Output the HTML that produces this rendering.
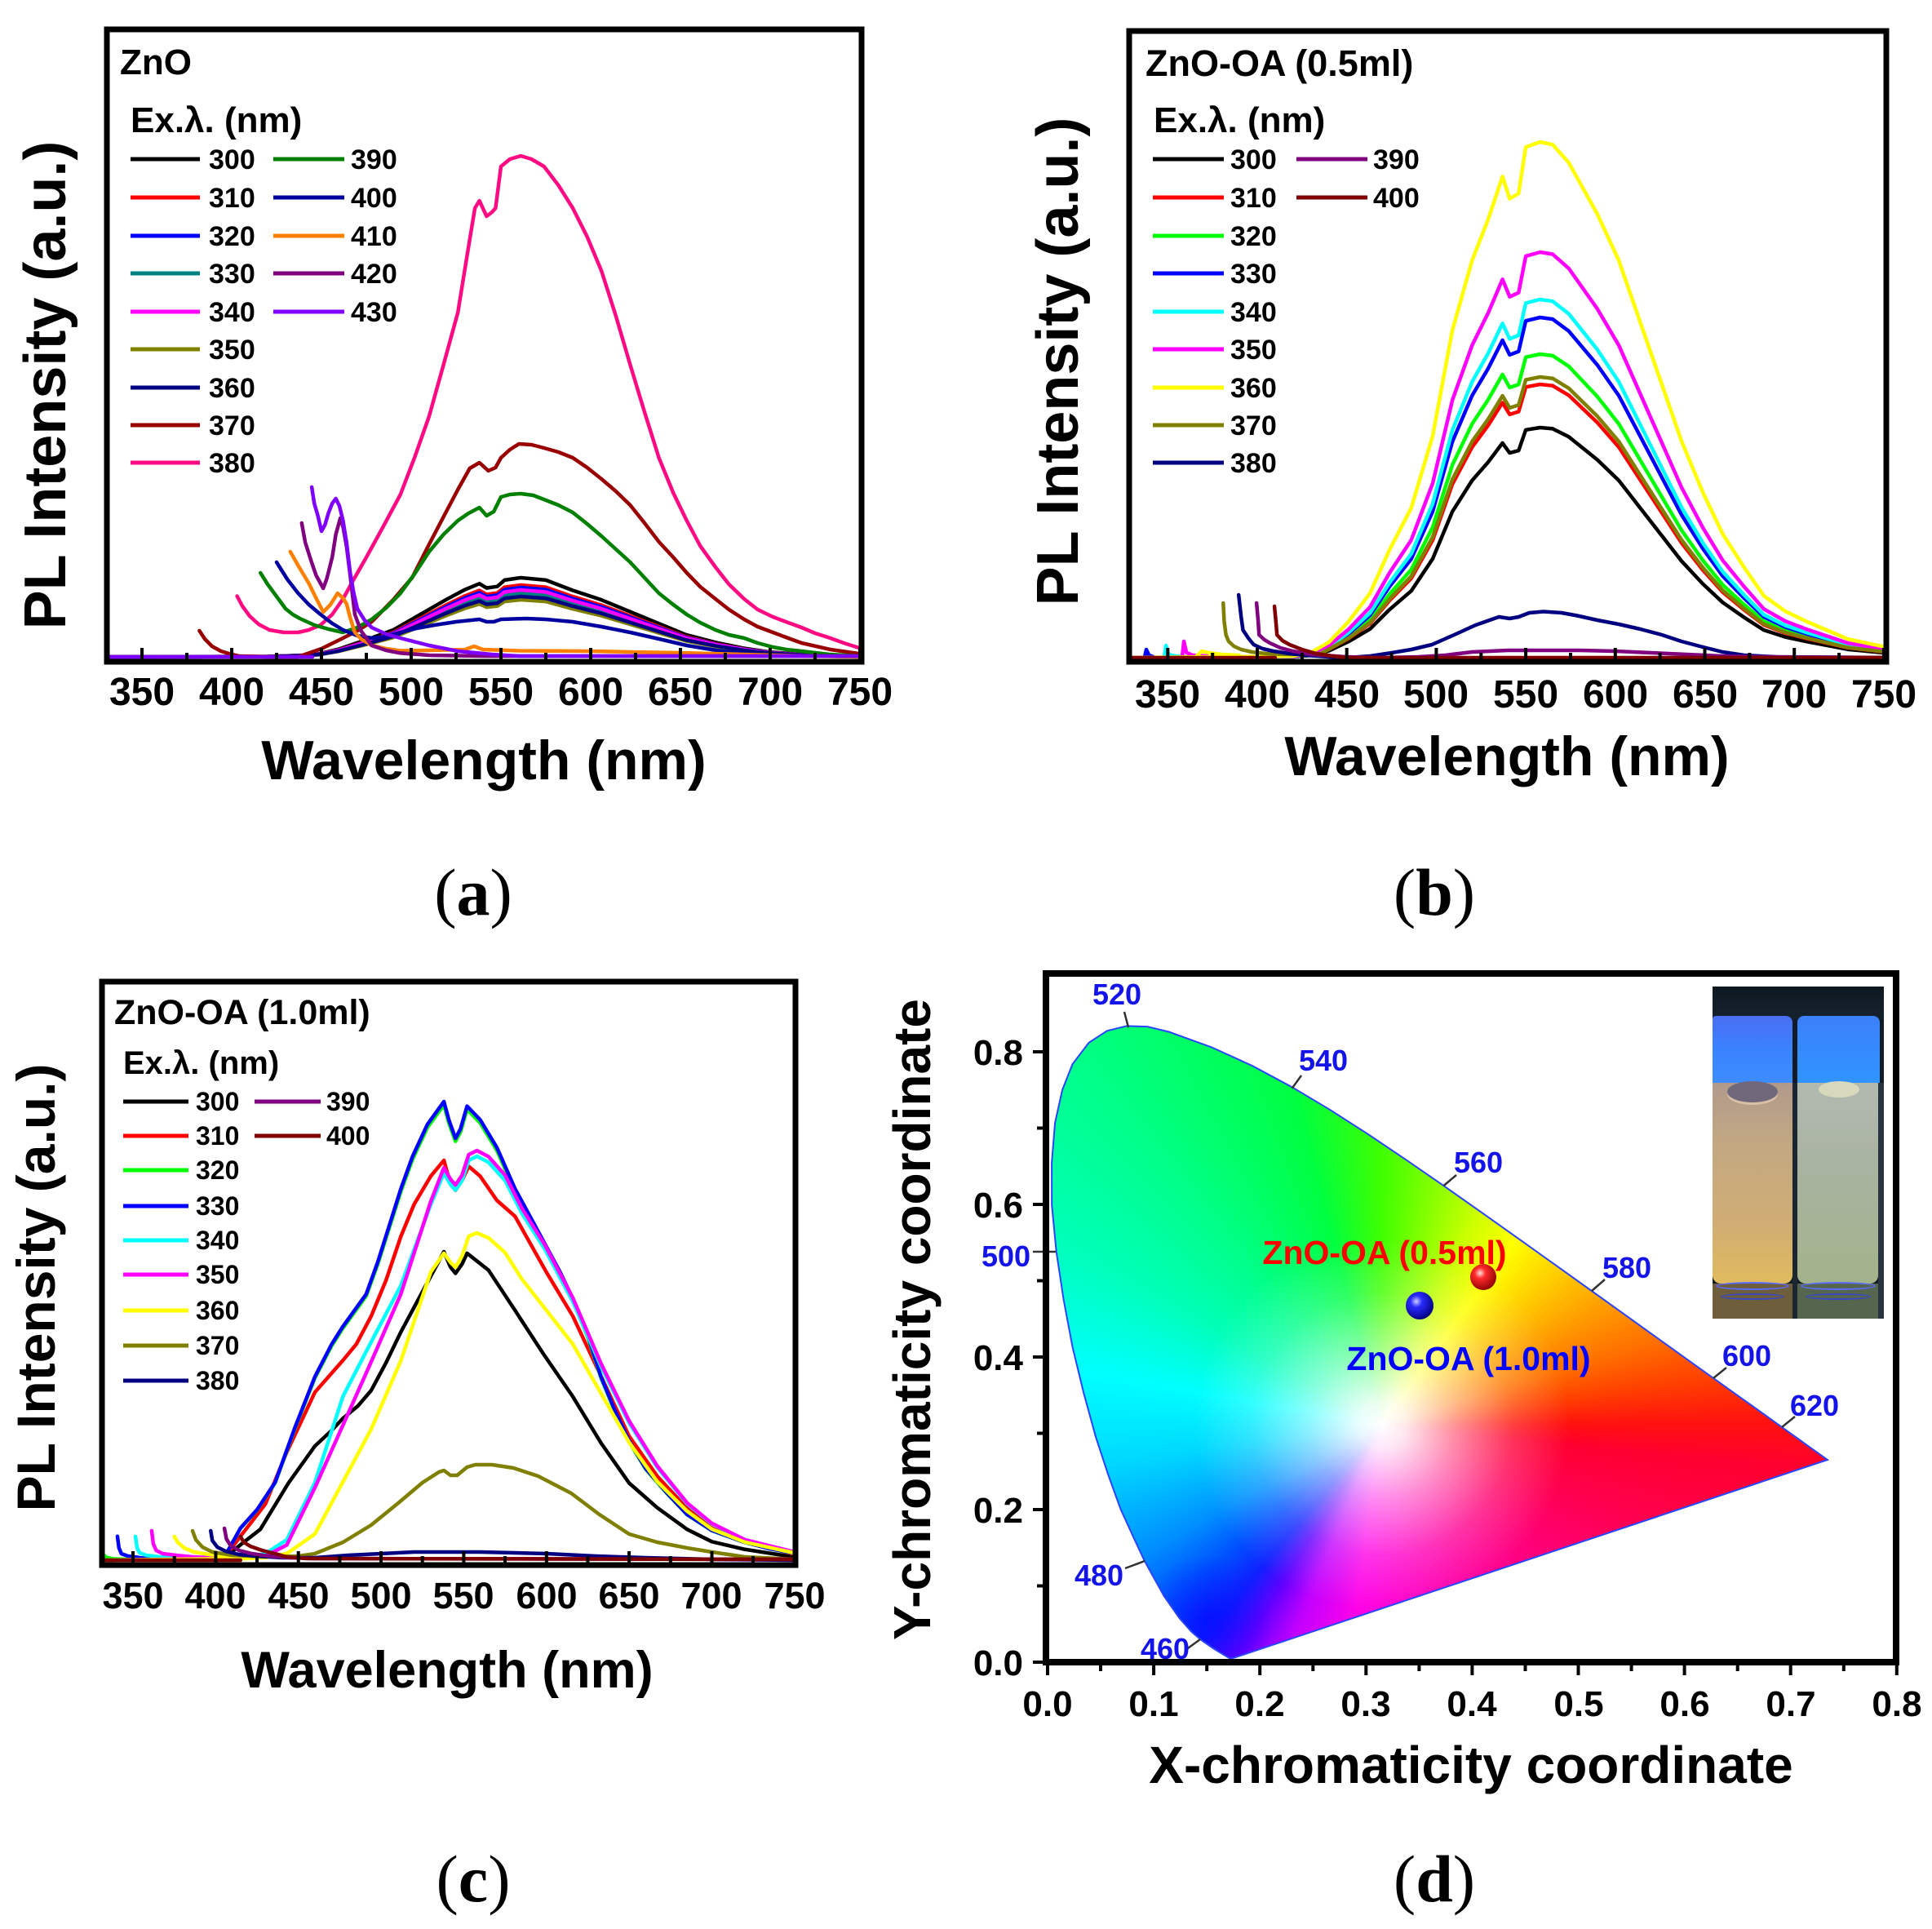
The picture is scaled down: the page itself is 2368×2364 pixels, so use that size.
<!DOCTYPE html>
<html><head><meta charset="utf-8">
<style>
html,body{margin:0;padding:0;background:#fff;}
body{width:2368px;height:2364px;position:relative;overflow:hidden;}
svg text{font-family:"Liberation Sans",Arial,sans-serif;font-weight:bold;fill:#000;}
.c path{fill:none;stroke-width:4.5;stroke-linejoin:round;stroke-linecap:round;vector-effect:non-scaling-stroke;}
.lg line{stroke-width:5;}
.tk{stroke:#000;stroke-width:4;fill:none;}
</style></head>
<body>
<div style="position:absolute;left:0;top:0;width:2368px;height:2364px;
clip-path:polygon(1510.5px 2032.3px,1507px 2032.2px,1497.9px 2026.8px,1487.7px 2020.5px,1471.3px 2009.2px,1460.3px 1999.7px,1445.5px 1983px,1426.6px 1955.8px,1402.8px 1912.9px,1388.7px 1882.7px,1373.4px 1849.3px,1358.2px 1807px,1343.1px 1761.2px,1328.2px 1707px,1314.6px 1651.1px,1303.5px 1592px,1294.7px 1533.6px,1289.2px 1477px,1289.1px 1424.8px,1293.1px 1376px,1302.1px 1335.6px,1314.6px 1304px,1334.6px 1277.8px,1356.9px 1263.3px,1380.7px 1257.4px,1406.3px 1258.1px,1432.6px 1264.5px,1485.3px 1283.5px,1535px 1306.2px,1582.7px 1331.7px,1629.8px 1359.8px,1676.4px 1389.7px,1722.8px 1420.9px,1769.4px 1453.1px,1815.7px 1485.7px,1861.8px 1518.4px,1906.9px 1550.6px,1950.8px 1582px,1992.8px 1612.1px,2032.3px 1640.4px,2068.4px 1666.3px,2099.7px 1688.7px,2127.3px 1708.4px,2150.2px 1724.7px,2183.6px 1748.7px,2205px 1764px,2219.4px 1774.4px,2233.7px 1784.6px,2239.9px 1789px);
background:
radial-gradient(circle at 1480px 1985px, rgba(0,0,255,.55) 0px, rgba(0,0,255,.25) 40px, rgba(0,0,255,0) 80px),
radial-gradient(circle at 1694px 1746px, #fff 0px, rgba(255,255,255,.9) 30px, rgba(255,255,255,.55) 90px, rgba(255,255,255,.2) 160px, rgba(255,255,255,0) 230px),
conic-gradient(from 0deg at 1694px 1746px, #40ff00 0deg, #90ff00 14deg, #d0ff00 25deg, #ffff00 36deg, #ffb000 57deg, #ff7000 73deg, #ff4000 82deg, #ff1010 90deg, #ff0030 96deg, #ff0070 125deg, #ff00b0 160deg, #ff00e8 188deg, #c000ff 203deg, #6000ff 212deg, #1020ff 220deg, #0050ff 230deg, #0090ff 242deg, #00d8ff 262deg, #00ffff 280deg, #00ffb8 300deg, #00ff88 320deg, #00ff40 345deg, #40ff00 360deg);"></div>

<svg width="2368" height="2364" viewBox="0 0 2368 2364" style="position:absolute;left:0;top:0">
<defs>
<clipPath id="ca"><rect x="134" y="39" width="919" height="769"/></clipPath>
<clipPath id="cb"><rect x="1387" y="41" width="922" height="767"/></clipPath>
<clipPath id="cc"><rect x="128" y="1206" width="844" height="709"/></clipPath>
<radialGradient id="rs" cx="0.38" cy="0.35" r="0.7"><stop offset="0" stop-color="#ffe0e0"/><stop offset="0.3" stop-color="#ff2a2a"/><stop offset="1" stop-color="#8a0000"/></radialGradient>
<radialGradient id="bs" cx="0.38" cy="0.35" r="0.7"><stop offset="0" stop-color="#d0d0ff"/><stop offset="0.3" stop-color="#2a2aff"/><stop offset="1" stop-color="#00007a"/></radialGradient>
</defs>

<!-- ================= PANEL A ================= -->
<g class="c" clip-path="url(#ca)">
<path d="M330,0 L420,5 440,20 449,40 460,100 478,240 490,340 500,470 510,600 520,730 530,850 538,925 542,870 548,890 552,970 561,1000 575,970 590,840 606,720 622,570 638,420 653,280 670,180 685,110 700,60 718,30 735,15 752,5" transform="translate(-596,805) scale(2.2,-0.097)" stroke="#000"/>
<path d="M330,0 L420,5 440,20 449,40 460,100 478,240 490,340 500,470 510,600 520,730 530,850 538,925 542,870 548,890 552,970 561,1000 575,970 590,840 606,720 622,570 638,420 653,280 670,180 685,110 700,60 718,30 735,15 752,5" transform="translate(-596,805) scale(2.2,-0.088)" stroke="#ff0000"/>
<path d="M330,0 L420,5 440,20 449,40 460,100 478,240 490,340 500,470 510,600 520,730 530,850 538,925 542,870 548,890 552,970 561,1000 575,970 590,840 606,720 622,570 638,420 653,280 670,180 685,110 700,60 718,30 735,15 752,5" transform="translate(-596,805) scale(2.2,-0.085)" stroke="#0000ff"/>
<path d="M330,0 L420,5 440,20 449,40 460,100 478,240 490,340 500,470 510,600 520,730 530,850 538,925 542,870 548,890 552,970 561,1000 575,970 590,840 606,720 622,570 638,420 653,280 670,180 685,110 700,60 718,30 735,15 752,5" transform="translate(-596,805) scale(2.2,-0.078)" stroke="#008080"/>
<path d="M330,0 L420,5 440,20 449,40 460,100 478,240 490,340 500,470 510,600 520,730 530,850 538,925 542,870 548,890 552,970 561,1000 575,970 590,840 606,720 622,570 638,420 653,280 670,180 685,110 700,60 718,30 735,15 752,5" transform="translate(-596,805) scale(2.2,-0.082)" stroke="#ff00ff"/>
<path d="M330,0 L420,5 440,20 449,40 460,100 478,240 490,340 500,470 510,600 520,730 530,850 538,925 542,870 548,890 552,970 561,1000 575,970 590,840 606,720 622,570 638,420 653,280 670,180 685,110 700,60 718,30 735,15 752,5" transform="translate(-596,805) scale(2.2,-0.070)" stroke="#808000"/>
<path d="M330,0 L420,5 440,20 449,40 460,100 478,240 490,340 500,470 510,600 520,730 530,850 538,925 542,870 548,890 552,970 561,1000 575,970 590,840 606,720 622,570 638,420 653,280 670,180 685,110 700,60 718,30 735,15 752,5" transform="translate(-596,805) scale(2.2,-0.074)" stroke="#000080"/>
<path d="M382,32 L385,22 389,13 394,7 400,3 404,1 420,0 437,0 450,10 462,23 470,32 478,43 490,70 500.5,97 510,138 520,180 526,205 532.6,231 538,238 543,228 547,232 550,244 555,254 560,261 567,260 574,256 582,251 590,244 598,232 606,218 614,203 622,186 630,164 638,141 646,122 653.5,103 661,86 669.5,71 677,58 685.5,46 693,37 701.5,30 710,23 717.5,17 733.5,9 749.5,4 752,4" transform="translate(-596,805) scale(2.2,-1)" stroke="#990000"/>
<path d="M403,74.5 L406,62 410,50 415,40 421,33 429,30 437,30 443,33 449.5,39 456,52 462,71 468,95 475,122 484,158 494,199 502,245 510,295 518,358 526,422 531,490 535.5,550 538,559 542,540 545,545 547,550 550,601 555,610 561,614 567,610 574,601 582,578 590,550 598,515 606,473 614,418 622,358 630,300 638,244 646,201 653.5,167 661,136 669.5,110 677,89 685.5,71 693,58 701.5,49 710,42 717.5,36 725,29 733.5,23 741,17 749.5,11 752,10" transform="translate(-596,805) scale(2.2,-1)" stroke="#ff0a82"/>
<path d="M416,103 L418,96 420,89 423,80 426,71 430,59 434,52 438,47 446,39 454,34 462,30 470,36 478,46 486,60 494,78 502,102 510,129 518,150 526,167 532,176 538,183 542,173 546,178 550,196 555,199 561,200 568,198 575,192 582,186 590,177 598,163 606,148 614,132 622,116 630,97 638,78 646,64 653.5,52 661,42 669.5,33 677,27 685.5,23 693,17 701.5,12 709,9 717.5,7 733,3 749.5,1 752,1" transform="translate(-596,805) scale(2.2,-1)" stroke="#008000"/>
<path d="M425,116 L431,95 437,78 443,64 449.5,52 456,41 462,33 470,26 478,23 486,25 494,30 503,35 513,39 525,43 538,46 542,43 546,43 550,46 564,47 575,46 590,43 606,37 622,30 638,22 653.5,14 670,8 685.5,4 700,2 752,0" transform="translate(-596,805) scale(2.2,-1)" stroke="#0000a0"/>
<path d="M432.6,129 L437,112 443,90 447,72 451,55 455,64 459,78 462,72 464,65 466,48 468.6,30 472,22 478,14 486,10 494,7.5 510,8 530,9 535,13 540,9 560,7.5 600,7 622,6 650,5 685,3 720,1 752,0" transform="translate(-596,805) scale(2.2,-1)" stroke="#ff8000"/>
<path d="M439,164 L441,140 444.5,116 447,100 451,84 453,96 456,122 458,150 460.5,170 462,160 464,135 466,100 468.6,52 472,32 478,14 486,8 494,4.6 510,2 540,1 752,1" transform="translate(-596,805) scale(2.2,-1)" stroke="#800080"/>
<path d="M444.6,208 L446,188 448,173 450,154 452,162 454,177 456,188 458,194 460,185 462,167 464,140 466,103 468,78 470,59 474,45 478,36 486,28 494,23 510,14 526,7 545,3 560,1 752,1" transform="translate(-596,805) scale(2.2,-1)" stroke="#8000ff"/>
<path d="M330,0 L445,0" transform="translate(-596,805) scale(2.2,-1)" stroke="#8000ff"/>
</g>
<path class="tk" d="M174,808v-14 M229,808v-8 M284,808v-14 M339,808v-8 M394,808v-14 M449,808v-8 M504,808v-14 M559,808v-8 M614,808v-14 M669,808v-8 M724,808v-14 M779,808v-8 M834,808v-14 M889,808v-8 M944,808v-14 M999,808v-8 M1054,808v-14"/>
<rect x="131" y="36" width="925" height="775" fill="none" stroke="#000" stroke-width="7"/>
<text x="147" y="91" font-size="44">ZnO</text>
<text x="160" y="162" font-size="44">Ex.λ. (nm)</text>
<g class="lg">
<line x1="160" x2="245" y1="195" y2="195" stroke="#000"/><text x="256" y="207" font-size="34">300</text>
<line x1="160" x2="245" y1="242" y2="242" stroke="#ff0000"/><text x="256" y="254" font-size="34">310</text>
<line x1="160" x2="245" y1="289" y2="289" stroke="#0000ff"/><text x="256" y="301" font-size="34">320</text>
<line x1="160" x2="245" y1="335" y2="335" stroke="#008080"/><text x="256" y="347" font-size="34">330</text>
<line x1="160" x2="245" y1="382" y2="382" stroke="#ff00ff"/><text x="256" y="394" font-size="34">340</text>
<line x1="160" x2="245" y1="428" y2="428" stroke="#808000"/><text x="256" y="440" font-size="34">350</text>
<line x1="160" x2="245" y1="475" y2="475" stroke="#000080"/><text x="256" y="487" font-size="34">360</text>
<line x1="160" x2="245" y1="521" y2="521" stroke="#990000"/><text x="256" y="533" font-size="34">370</text>
<line x1="160" x2="245" y1="567" y2="567" stroke="#ff0a82"/><text x="256" y="579" font-size="34">380</text>
<line x1="335" x2="422" y1="195" y2="195" stroke="#008000"/><text x="430" y="207" font-size="34">390</text>
<line x1="335" x2="422" y1="242" y2="242" stroke="#0000a0"/><text x="430" y="254" font-size="34">400</text>
<line x1="335" x2="422" y1="289" y2="289" stroke="#ff8000"/><text x="430" y="301" font-size="34">410</text>
<line x1="335" x2="422" y1="335" y2="335" stroke="#800080"/><text x="430" y="347" font-size="34">420</text>
<line x1="335" x2="422" y1="382" y2="382" stroke="#8000ff"/><text x="430" y="394" font-size="34">430</text>
</g>
<text x="174" y="864" font-size="48" text-anchor="middle">350</text>
<text x="284" y="864" font-size="48" text-anchor="middle">400</text>
<text x="394" y="864" font-size="48" text-anchor="middle">450</text>
<text x="504" y="864" font-size="48" text-anchor="middle">500</text>
<text x="614" y="864" font-size="48" text-anchor="middle">550</text>
<text x="724" y="864" font-size="48" text-anchor="middle">600</text>
<text x="834" y="864" font-size="48" text-anchor="middle">650</text>
<text x="944" y="864" font-size="48" text-anchor="middle">700</text>
<text x="1054" y="864" font-size="48" text-anchor="middle">750</text>
<text x="593" y="955" font-size="68" text-anchor="middle">Wavelength (nm)</text>
<text transform="translate(80,472) rotate(-90)" x="0" y="0" font-size="72" text-anchor="middle">PL Intensity (a.u.)</text>

<!-- ================= PANEL B ================= -->
<g class="c" clip-path="url(#cb)">
<path d="M337,0 L338,10 339.5,3 342,1" transform="translate(663.4,806) scale(2.194,-1)" stroke="#0000ff"/>
<path d="M348,0 L349,15 350.5,4 354,2 360,1" transform="translate(663.4,806) scale(2.194,-1)" stroke="#00ffff"/>
<path d="M358,0 L359,20 360.5,6 364,3 372,2" transform="translate(663.4,806) scale(2.194,-1)" stroke="#ff00ff"/>
<path d="M366,2 L369,8 373,6 380,4 390,3" transform="translate(663.4,806) scale(2.194,-1)" stroke="#ffff00"/>
<path d="M330,0 L420,3 430,10 440,30 451,70 463,125 474,210 486,290 498,430 509,635 520,770 529,850 537,933 541,890 546,900 550,990 558,1000 565,995 574,960 590,860 602,770 614,650 626,530 637,420 649,320 660,240 672,175 683,120 695,90 707,70 730,36 752,20" transform="translate(663.4,806) scale(2.194,-0.282)" stroke="#000"/>
<path d="M330,0 L420,3 430,10 440,30 451,70 463,125 474,210 486,290 498,430 509,635 520,770 529,850 537,933 541,890 546,900 550,990 558,1000 565,995 574,960 590,860 602,770 614,650 626,530 637,420 649,320 660,240 672,175 683,120 695,90 707,70 730,36 752,20" transform="translate(663.4,806) scale(2.194,-0.335)" stroke="#ff0000"/>
<path d="M330,0 L420,3 430,10 440,30 451,70 463,125 474,210 486,290 498,430 509,635 520,770 529,850 537,933 541,890 546,900 550,990 558,1000 565,995 574,960 590,860 602,770 614,650 626,530 637,420 649,320 660,240 672,175 683,120 695,90 707,70 730,36 752,20" transform="translate(663.4,806) scale(2.194,-0.372)" stroke="#00ff00"/>
<path d="M330,0 L420,3 430,10 440,30 451,70 463,125 474,210 486,290 498,430 509,635 520,770 529,850 537,933 541,890 546,900 550,990 558,1000 565,995 574,960 590,860 602,770 614,650 626,530 637,420 649,320 660,240 672,175 683,120 695,90 707,70 730,36 752,20" transform="translate(663.4,806) scale(2.194,-0.417)" stroke="#0000ff"/>
<path d="M330,0 L420,3 430,10 440,30 451,70 463,125 474,210 486,290 498,430 509,635 520,770 529,850 537,933 541,890 546,900 550,990 558,1000 565,995 574,960 590,860 602,770 614,650 626,530 637,420 649,320 660,240 672,175 683,120 695,90 707,70 730,36 752,20" transform="translate(663.4,806) scale(2.194,-0.439)" stroke="#00ffff"/>
<path d="M330,0 L420,3 430,10 440,30 451,70 463,125 474,210 486,290 498,430 509,635 520,770 529,850 537,933 541,890 546,900 550,990 558,1000 565,995 574,960 590,860 602,770 614,650 626,530 637,420 649,320 660,240 672,175 683,120 695,90 707,70 730,36 752,20" transform="translate(663.4,806) scale(2.194,-0.497)" stroke="#ff00ff"/>
<path d="M330,0 L420,3 430,10 440,30 451,70 463,125 474,210 486,290 498,430 509,635 520,770 529,850 537,933 541,890 546,900 550,990 558,1000 565,995 574,960 590,860 602,770 614,650 626,530 637,420 649,320 660,240 672,175 683,120 695,90 707,70 730,36 752,20" transform="translate(663.4,806) scale(2.194,-0.632)" stroke="#ffff00"/>
<path d="M381,67 L381.5,45 382.5,28 384,20 387,14 391,10 397,7 405,5 415,4 425,4 435,5" transform="translate(663.4,806) scale(2.194,-1)" stroke="#808000"/>
<path d="M435,13 L440,30 451,70 463,125 474,210 486,290 498,430 509,635 520,770 529,850 537,933 541,890 546,900 550,990 558,1000 565,995 574,960 590,860 602,770 614,650 626,530 637,420 649,320 660,240 672,175 683,120 695,90 707,70 730,36 752,20" transform="translate(663.4,806) scale(2.194,-0.344)" stroke="#808000"/>
<path d="M389.6,77 L391,50 392,34 395,24 398,16 403,11 409,8 418,5 427,3 440,1 450,0 463,2 474,5.6 486,10 497.6,16 510,28 522,40 535,50 541,48 546,50 552,55 560,56.5 570,55 578.7,51.5 590,46 602,41 614,35 626,28 637,20 649,13 660,7 672,3 690,1 752,0" transform="translate(663.4,806) scale(2.194,-1)" stroke="#000080"/>
<path d="M399.6,67 L400.5,45 401,28 404,22 407,18 413,12 420,8 430,4 450,1 470,0 490,1 505,3 520,7 540,9 580,9 600,8 620,6 640,4 660,2 680,1 752,0" transform="translate(663.4,806) scale(2.194,-1)" stroke="#800080"/>
<path d="M409.6,63 L410.5,42 411,28 414,21 418,16 425,10 433,5 442,2 450,0 752,0" transform="translate(663.4,806) scale(2.194,-1)" stroke="#800000"/>
<path d="M330,0 L410,0" transform="translate(663.4,806) scale(2.194,-1)" stroke="#800000"/>
</g>
<path class="tk" d="M1431.3,808v-14 M1486.2,808v-8 M1541,808v-14 M1595.9,808v-8 M1650.7,808v-14 M1705.6,808v-8 M1760.4,808v-14 M1815.3,808v-8 M1870.1,808v-14 M1925,808v-8 M1979.8,808v-14 M2034.7,808v-8 M2089.5,808v-14 M2144.4,808v-8 M2199.2,808v-14 M2254.1,808v-8 M2308.9,808v-14"/>
<rect x="1384" y="38" width="928" height="773" fill="none" stroke="#000" stroke-width="7"/>
<text x="1404" y="93" font-size="45">ZnO-OA (0.5ml)</text>
<text x="1414" y="162" font-size="44">Ex.λ. (nm)</text>
<g class="lg">
<line x1="1413" x2="1500" y1="195" y2="195" stroke="#000"/><text x="1508" y="207" font-size="34">300</text>
<line x1="1413" x2="1500" y1="242" y2="242" stroke="#ff0000"/><text x="1508" y="254" font-size="34">310</text>
<line x1="1413" x2="1500" y1="289" y2="289" stroke="#00ff00"/><text x="1508" y="301" font-size="34">320</text>
<line x1="1413" x2="1500" y1="335" y2="335" stroke="#0000ff"/><text x="1508" y="347" font-size="34">330</text>
<line x1="1413" x2="1500" y1="382" y2="382" stroke="#00ffff"/><text x="1508" y="394" font-size="34">340</text>
<line x1="1413" x2="1500" y1="428" y2="428" stroke="#ff00ff"/><text x="1508" y="440" font-size="34">350</text>
<line x1="1413" x2="1500" y1="475" y2="475" stroke="#ffff00"/><text x="1508" y="487" font-size="34">360</text>
<line x1="1413" x2="1500" y1="521" y2="521" stroke="#808000"/><text x="1508" y="533" font-size="34">370</text>
<line x1="1413" x2="1500" y1="567" y2="567" stroke="#000080"/><text x="1508" y="579" font-size="34">380</text>
<line x1="1589" x2="1676" y1="195" y2="195" stroke="#800080"/><text x="1683" y="207" font-size="34">390</text>
<line x1="1589" x2="1676" y1="242" y2="242" stroke="#800000"/><text x="1683" y="254" font-size="34">400</text>
</g>
<text x="1431" y="867" font-size="48" text-anchor="middle">350</text>
<text x="1541" y="867" font-size="48" text-anchor="middle">400</text>
<text x="1651" y="867" font-size="48" text-anchor="middle">450</text>
<text x="1760" y="867" font-size="48" text-anchor="middle">500</text>
<text x="1870" y="867" font-size="48" text-anchor="middle">550</text>
<text x="1980" y="867" font-size="48" text-anchor="middle">600</text>
<text x="2090" y="867" font-size="48" text-anchor="middle">650</text>
<text x="2199" y="867" font-size="48" text-anchor="middle">700</text>
<text x="2309" y="867" font-size="48" text-anchor="middle">750</text>
<text x="1847" y="950" font-size="68" text-anchor="middle">Wavelength (nm)</text>
<text transform="translate(1321,443) rotate(-90)" x="0" y="0" font-size="72" text-anchor="middle">PL Intensity (a.u.)</text>

<!-- ================= PANEL C ================= -->
<g class="c" clip-path="url(#cc)">
<path d="M331,0 L405,5 415,50 427,100 444,250 460,370 470,420 477,460 486,500 494,550 503,640 512,740 520,820 530,920 538,1000 542,950 545,930 549,960 552,995 565,940 581,810 598,670 616,530 633,380 650,250 667,170 685,100 700,60 720,35 750,10" transform="translate(-546.45,1912) scale(2.027,-0.378)" stroke="#000"/>
<path d="M331,0 L405,5 415,60 430,140 443,270 460,420 477,500 485,540 494,610 503,700 512,810 520,890 530,960 538,1000 542,940 545,925 549,950 553,985 560,960 570,900 581,860 600,720 616,610 633,460 650,310 667,210 685,130 700,80 720,45 750,15" transform="translate(-546.45,1912) scale(2.027,-0.490)" stroke="#ff0000"/>
<path d="M331,22 L332,12 334,6 338,3 345,2 405,5 415,70 425,110 436,170 448,290 460,400 470,470 477,510 484,545 491,580 498,650 505,730 512,810 519,880 528,950 538,1000 541,960 545,920 548,940 552,990 560,960 570,900 581,810 590,750 599,690 608,630 616,570 625,490 633,400 641,330 650,260 660,200 672,150 685,100 700,65 719,40 735,25 750,15" transform="translate(-546.45,1912) scale(2.027,-0.558)" stroke="#00ff00"/>
<path d="M340.6,52 L341.5,27 343,14 347,9 355,5 365,4 405,5 415,70 425,110 436,170 448,290 460,400 470,470 477,510 484,545 491,580 498,650 505,730 512,810 519,880 528,950 538,1000 541,960 545,920 548,940 552,990 560,960 570,900 581,810 590,750 599,690 608,630 616,570 625,490 633,400 641,330 650,260 660,200 672,150 685,100 700,65 719,40 735,25 750,15" transform="translate(-546.45,1912) scale(2.027,-0.562)" stroke="#0000ff"/>
<path d="M351.5,29 L352.5,15 354,9 358,6 366,4 376,3 420,4 430,8 443,25 460,95 477,201" transform="translate(-546.45,1912) scale(2.027,-1)" stroke="#00ffff"/>
<path d="M477,406 L494,540 512,680 530,880 538,958 542,930 545,916 549,940 553,990 558,1000 565,985 575,940 585,860 599,770 616,640 633,480 650,340 667,230 685,140 700,90 720,50 750,20" transform="translate(-546.45,1912) scale(2.027,-0.495)" stroke="#00ffff"/>
<path d="M361.3,36 L362.3,20 364,12 368,8 376,6 386,4 396,3 420,3" transform="translate(-546.45,1912) scale(2.027,-1)" stroke="#ff00ff"/>
<path d="M331,0 L420,5 430,10 443,37 460,177 477,330 494,484 512,650 530,875 538,958 542,930 545,916 549,940 553,990 558,1000 565,985 575,940 585,860 599,770 616,640 633,480 650,340 667,230 685,140 700,90 720,50 750,20" transform="translate(-546.45,1912) scale(2.027,-0.502)" stroke="#ff00ff"/>
<path d="M375,29 L377,22 381,15 387,10 396,7 406,5 416,4 430,4" transform="translate(-546.45,1912) scale(2.027,-1)" stroke="#ffff00"/>
<path d="M331,0 L420,5 430,8 443,20 460,80 477,240 494,400 512,610 530,880 538,938 542,910 545,895 549,930 553,990 558,1000 565,985 575,940 585,860 599,770 616,660 633,510 650,360 667,240 685,150 700,95 720,55 750,22" transform="translate(-546.45,1912) scale(2.027,-0.401)" stroke="#ffff00"/>
<path d="M386,36 L388,25 392,16 398,10 410,6 430,4 450,5 460,8 477,22 494,43 511,71 525,95 535,108 538,110 542,104 546,104 552,114 557,117 567,117 580,113 595,103 615,82 632,56 650,32 667,22 685,15 700,10 720,4 750,1" transform="translate(-546.45,1912) scale(2.027,-1)" stroke="#808000"/>
<path d="M397,36 L398,24 401,16 406,11 414,7 425,5 440,3 460,3 480,6 500,8 520,10 560,10 600,8 630,5 660,3 700,1 750,0" transform="translate(-546.45,1912) scale(2.027,-1)" stroke="#000080"/>
<path d="M405.3,39 L406.5,26 409,18 414,12 422,8 432,5 445,3 460,2 750,1" transform="translate(-546.45,1912) scale(2.027,-1)" stroke="#800080"/>
<path d="M415,29 L417,22 421,17 428,12 436,8 443,4 455,2 750,1" transform="translate(-546.45,1912) scale(2.027,-1)" stroke="#800000"/>
<path d="M331,0 L415,0" transform="translate(-546.45,1912) scale(2.027,-1)" stroke="#800000"/>
</g>
<path class="tk" d="M163,1915v-14 M213.7,1915v-8 M264.4,1915v-14 M315,1915v-8 M365.7,1915v-14 M416.4,1915v-8 M467,1915v-14 M517.7,1915v-8 M568.4,1915v-14 M619,1915v-8 M669.8,1915v-14 M720.4,1915v-8 M771.1,1915v-14 M821.8,1915v-8 M872.5,1915v-14 M923,1915v-8 M973.8,1915v-14"/>
<rect x="125" y="1203" width="850" height="715" fill="none" stroke="#000" stroke-width="7"/>
<text x="140" y="1255" font-size="43">ZnO-OA (1.0ml)</text>
<text x="151" y="1316" font-size="40">Ex.λ. (nm)</text>
<g class="lg">
<line x1="151" x2="231" y1="1350" y2="1350" stroke="#000"/><text x="240" y="1361" font-size="32">300</text>
<line x1="151" x2="231" y1="1392" y2="1392" stroke="#ff0000"/><text x="240" y="1403" font-size="32">310</text>
<line x1="151" x2="231" y1="1434" y2="1434" stroke="#00ff00"/><text x="240" y="1445" font-size="32">320</text>
<line x1="151" x2="231" y1="1478" y2="1478" stroke="#0000ff"/><text x="240" y="1489" font-size="32">330</text>
<line x1="151" x2="231" y1="1520" y2="1520" stroke="#00ffff"/><text x="240" y="1531" font-size="32">340</text>
<line x1="151" x2="231" y1="1562" y2="1562" stroke="#ff00ff"/><text x="240" y="1573" font-size="32">350</text>
<line x1="151" x2="231" y1="1606" y2="1606" stroke="#ffff00"/><text x="240" y="1617" font-size="32">360</text>
<line x1="151" x2="231" y1="1649" y2="1649" stroke="#808000"/><text x="240" y="1660" font-size="32">370</text>
<line x1="151" x2="231" y1="1692" y2="1692" stroke="#000080"/><text x="240" y="1703" font-size="32">380</text>
<line x1="312" x2="393" y1="1350" y2="1350" stroke="#800080"/><text x="400" y="1361" font-size="32">390</text>
<line x1="312" x2="393" y1="1392" y2="1392" stroke="#800000"/><text x="400" y="1403" font-size="32">400</text>
</g>
<text x="163" y="1971" font-size="45" text-anchor="middle">350</text>
<text x="264" y="1971" font-size="45" text-anchor="middle">400</text>
<text x="366" y="1971" font-size="45" text-anchor="middle">450</text>
<text x="467" y="1971" font-size="45" text-anchor="middle">500</text>
<text x="568" y="1971" font-size="45" text-anchor="middle">550</text>
<text x="670" y="1971" font-size="45" text-anchor="middle">600</text>
<text x="771" y="1971" font-size="45" text-anchor="middle">650</text>
<text x="872" y="1971" font-size="45" text-anchor="middle">700</text>
<text x="974" y="1971" font-size="45" text-anchor="middle">750</text>
<text x="548" y="2068" font-size="63" text-anchor="middle">Wavelength (nm)</text>
<text transform="translate(67,1578) rotate(-90)" x="0" y="0" font-size="66" text-anchor="middle">PL Intensity (a.u.)</text>

<!-- ================= PANEL D ================= -->
<path d="M1510.5,2032.3 L1507,2032.2 1497.9,2026.8 1487.7,2020.5 1471.3,2009.2 1460.3,1999.7 1445.5,1983 1426.6,1955.8 1402.8,1912.9 1388.7,1882.7 1373.4,1849.3 1358.2,1807 1343.1,1761.2 1328.2,1707 1314.6,1651.1 1303.5,1592 1294.7,1533.6 1289.2,1477 1289.1,1424.8 1293.1,1376 1302.1,1335.6 1314.6,1304 1334.6,1277.8 1356.9,1263.3 1380.7,1257.4 1406.3,1258.1 1432.6,1264.5 1485.3,1283.5 1535,1306.2 1582.7,1331.7 1629.8,1359.8 1676.4,1389.7 1722.8,1420.9 1769.4,1453.1 1815.7,1485.7 1861.8,1518.4 1906.9,1550.6 1950.8,1582 1992.8,1612.1 2032.3,1640.4 2068.4,1666.3 2099.7,1688.7 2127.3,1708.4 2150.2,1724.7 2183.6,1748.7 2205,1764 2219.4,1774.4 2233.7,1784.6 2239.9,1789 Z" fill="none" stroke="#2a44ff" stroke-width="2"/>
<g stroke="#333" stroke-width="2.5" fill="none">
<path d="M1383,1259 L1378,1240"/>
<path d="M1583.6,1333.8 L1595,1318"/>
<path d="M1769.6,1453 L1785,1440"/>
<path d="M1951,1582 L1967,1568"/>
<path d="M2100,1689 L2116,1676"/>
<path d="M2184,1749 L2200,1736"/>
<path d="M1294,1534 L1266,1534"/>
<path d="M1403,1913 L1379,1922"/>
<path d="M1471,2009 L1456,2020"/>
</g>
<text x="1369" y="1231" font-size="36" text-anchor="middle" style="fill:#1414e8">520</text>
<text x="1622" y="1312" font-size="36" text-anchor="middle" style="fill:#1414e8">540</text>
<text x="1812" y="1437" font-size="36" text-anchor="middle" style="fill:#1414e8">560</text>
<text x="1994" y="1566" font-size="36" text-anchor="middle" style="fill:#1414e8">580</text>
<text x="2141" y="1674" font-size="36" text-anchor="middle" style="fill:#1414e8">600</text>
<text x="2224" y="1735" font-size="36" text-anchor="middle" style="fill:#1414e8">620</text>
<text x="1233" y="1552" font-size="36" text-anchor="middle" style="fill:#1414e8">500</text>
<text x="1347" y="1943" font-size="36" text-anchor="middle" style="fill:#1414e8">480</text>
<text x="1428" y="2033" font-size="36" text-anchor="middle" style="fill:#1414e8">460</text>
<circle cx="1818" cy="1565" r="16" fill="url(#rs)"/>
<circle cx="1740" cy="1600" r="17" fill="url(#bs)"/>
<text x="1697" y="1549" font-size="41" text-anchor="middle" style="fill:#ff0000">ZnO-OA (0.5ml)</text>
<text x="1800" y="1679" font-size="41" text-anchor="middle" style="fill:#0000ff">ZnO-OA (1.0ml)</text>
<rect x="1282" y="1193" width="1042" height="844" fill="none" stroke="#000" stroke-width="8"/>
<path class="tk" d="M1284,2041v12 M1349,2041v7 M1414.1,2041v12 M1479.2,2041v7 M1544.2,2041v12 M1609.3,2041v7 M1674.3,2041v12 M1739.4,2041v7 M1804.4,2041v12 M1869.5,2041v7 M1934.5,2041v12 M1999.6,2041v7 M2064.6,2041v12 M2129.7,2041v7 M2194.7,2041v12 M2259.8,2041v7 M2324.8,2041v12"/>
<path class="tk" d="M1278,2037h-12 M1278,1943.5h-7 M1278,1850h-12 M1278,1756.5h-7 M1278,1663h-12 M1278,1569.5h-7 M1278,1476h-12 M1278,1382.5h-7 M1278,1289h-12"/>
<text x="1284" y="2103" font-size="44" text-anchor="middle">0.0</text>
<text x="1414" y="2103" font-size="44" text-anchor="middle">0.1</text>
<text x="1544" y="2103" font-size="44" text-anchor="middle">0.2</text>
<text x="1674" y="2103" font-size="44" text-anchor="middle">0.3</text>
<text x="1804" y="2103" font-size="44" text-anchor="middle">0.4</text>
<text x="1935" y="2103" font-size="44" text-anchor="middle">0.5</text>
<text x="2065" y="2103" font-size="44" text-anchor="middle">0.6</text>
<text x="2195" y="2103" font-size="44" text-anchor="middle">0.7</text>
<text x="2325" y="2103" font-size="44" text-anchor="middle">0.8</text>
<text x="1254" y="2053" font-size="44" text-anchor="end">0.0</text>
<text x="1254" y="1866" font-size="44" text-anchor="end">0.2</text>
<text x="1254" y="1679" font-size="44" text-anchor="end">0.4</text>
<text x="1254" y="1492" font-size="44" text-anchor="end">0.6</text>
<text x="1254" y="1305" font-size="44" text-anchor="end">0.8</text>
<text x="1803" y="2185" font-size="64" text-anchor="middle">X-chromaticity coordinate</text>
<text transform="translate(1140,1617) rotate(-90)" x="0" y="0" font-size="64" text-anchor="middle">Y-chromaticity coordinate</text>

<!-- captions -->
<text x="580" y="1121" font-size="82" text-anchor="middle" style="font-family:'Liberation Serif',serif;font-weight:normal">(<tspan style="font-weight:bold">a</tspan>)</text>
<text x="1758" y="1121" font-size="82" text-anchor="middle" style="font-family:'Liberation Serif',serif;font-weight:normal">(<tspan style="font-weight:bold">b</tspan>)</text>
<text x="580" y="2330" font-size="82" text-anchor="middle" style="font-family:'Liberation Serif',serif;font-weight:normal">(<tspan style="font-weight:bold">c</tspan>)</text>
<text x="1758" y="2330" font-size="82" text-anchor="middle" style="font-family:'Liberation Serif',serif;font-weight:normal">(<tspan style="font-weight:bold">d</tspan>)</text>
</svg>

<!-- inset photo -->
<div style="position:absolute;left:2099px;top:1209px;width:210px;height:407px;background:#111b25;overflow:hidden">
  <div style="position:absolute;left:0;top:0;width:210px;height:40px;background:linear-gradient(#0e1820,#16222e)"></div>
  <div style="position:absolute;left:0;top:36px;width:98px;height:82px;background:linear-gradient(#4a6ef2,#3a84ff 55%,#3d8cff);border-radius:4px 8px 0 0"></div>
  <div style="position:absolute;left:104px;top:36px;width:101px;height:82px;background:linear-gradient(#3c80fa,#2f94ff);border-radius:8px 8px 0 0"></div>
  <div style="position:absolute;left:0;top:118px;width:98px;height:246px;background:linear-gradient(#b09a8c,#c2a882 30%,#d0ad74 70%,#e0bb5e 100%);border-radius:0 0 10px 10px"></div>
  <div style="position:absolute;left:104px;top:118px;width:99px;height:246px;background:linear-gradient(#b2bab0,#a9b3a2 40%,#a3b38a 100%);border-radius:0 0 10px 10px"></div>
  <div style="position:absolute;left:18px;top:116px;width:62px;height:26px;border-radius:50%;background:#70687a;box-shadow:0 3px 0 #d8c0a8"></div>
  <div style="position:absolute;left:130px;top:116px;width:50px;height:20px;border-radius:50%;background:#d8d8bc"></div>
  <div style="position:absolute;left:98px;top:118px;width:6px;height:289px;background:#1c2630"></div>
  <div style="position:absolute;left:203px;top:118px;width:7px;height:289px;background:#2a3440"></div>
  <div style="position:absolute;left:0;top:364px;width:98px;height:43px;background:#6e5e3c"></div>
  <div style="position:absolute;left:104px;top:364px;width:99px;height:43px;background:#56664e"></div>
  <div style="position:absolute;left:4px;top:362px;width:90px;height:10px;border-radius:50%;border:2px solid #5a6cff;box-sizing:border-box"></div>
  <div style="position:absolute;left:10px;top:376px;width:78px;height:8px;border-radius:50%;border:2px solid #3848c0;box-sizing:border-box"></div>
  <div style="position:absolute;left:108px;top:362px;width:92px;height:10px;border-radius:50%;border:2px solid #5a6cff;box-sizing:border-box"></div>
  <div style="position:absolute;left:114px;top:376px;width:80px;height:8px;border-radius:50%;border:2px solid #3848c0;box-sizing:border-box"></div>
</div>
</body></html>
